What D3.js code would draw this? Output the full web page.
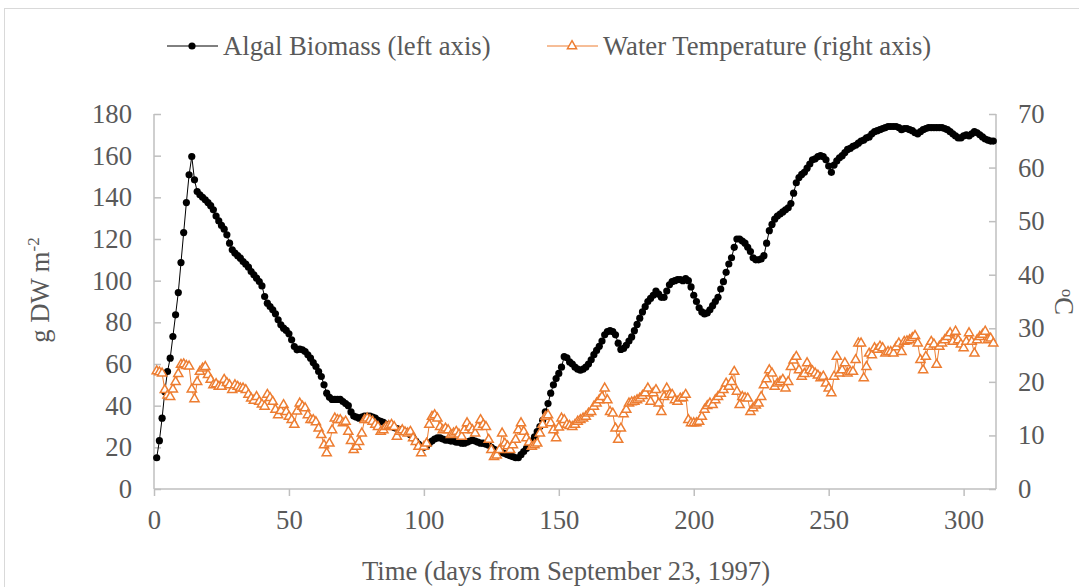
<!DOCTYPE html>
<html><head><meta charset="utf-8">
<script src="https://cdn.jsdelivr.net/npm/d3@7"></script>
<style>body{margin:0;background:#fff}text{font-family:"Liberation Serif","Times New Roman",serif}</style>
</head><body><svg id="c" width="1079" height="587"></svg>
<script>
const dayStart = 1;
const biomass = [
15.0,23.2,34.0,46.7,56.4,62.8,73.2,83.6,94.3,108.7,
123.1,137.5,150.8,159.6,148.4,142.8,141.2,140.0,138.8,137.5,
136.0,134.0,131.0,128.7,126.5,124.7,122.0,118.0,114.8,113.2,
112.0,110.8,109.2,107.9,106.5,104.4,102.8,101.2,99.6,97.5,
92.4,89.2,87.6,86.0,84.1,81.2,78.8,77.2,76.1,74.5,
71.6,68.4,66.8,67.1,66.8,66.0,64.4,62.8,60.7,58.8,
56.4,54.0,50.0,46.0,44.0,43.0,43.0,43.0,43.0,42.0,
41.0,40.0,37.0,35.0,34.5,34.0,34.5,35.0,35.0,35.0,
34.5,34.0,33.0,32.5,32.0,31.0,30.5,30.0,29.5,29.0,
28.5,28.0,27.5,27.0,26.0,24.5,23.0,21.5,20.5,20.0,
20.5,22.0,23.0,24.0,24.5,24.5,24.0,23.5,23.5,23.0,
23.0,22.5,22.5,22.0,22.0,22.5,23.0,23.5,23.0,22.5,
22.0,22.0,21.5,21.0,20.0,19.0,18.5,18.0,17.5,17.0,
16.5,16.0,15.5,15.0,15.0,16.5,18.0,19.5,21.0,23.0,
25.0,27.5,30.0,33.0,37.0,41.0,46.0,50.0,53.0,55.5,
58.5,63.5,63.0,61.0,60.0,58.5,57.5,57.0,57.5,58.5,
60.0,62.0,64.5,66.5,68.5,71.0,74.0,75.5,76.0,75.5,
74.0,70.0,67.0,67.5,69.0,71.0,73.0,76.0,79.0,82.0,
85.0,87.5,90.0,91.5,93.0,95.0,93.5,92.0,92.0,95.0,
98.0,99.5,100.0,100.5,100.5,100.0,101.0,100.0,97.0,93.0,
90.0,87.0,85.0,84.0,84.5,86.0,88.0,90.0,92.0,96.0,
99.5,104.0,108.0,111.0,116.0,120.0,120.0,119.0,118.0,116.0,
114.0,111.0,110.0,110.0,110.5,112.0,118.0,124.0,127.0,129.5,
131.0,132.0,133.0,134.0,135.0,137.0,142.0,147.0,149.5,151.0,
152.0,154.0,156.0,158.0,158.5,159.5,160.0,159.5,158.0,155.0,
152.0,155.5,157.5,159.0,160.0,161.5,163.0,163.5,164.5,165.0,
166.0,167.0,167.5,168.5,169.0,170.5,171.5,172.0,172.5,173.0,
173.5,174.0,174.0,174.0,174.0,173.5,172.5,173.0,173.0,172.5,
172.0,171.0,170.5,171.5,172.5,173.0,173.5,173.5,173.5,173.5,
173.5,173.5,173.0,172.5,171.5,170.5,169.5,168.5,168.5,169.5,
170.0,169.5,170.5,171.5,171.0,170.0,169.0,168.0,167.5,167.0,
167.0
];
const temperature = [
22.0,21.8,21.6,18.5,17.5,17.2,18.6,20.0,21.5,23.2,
23.3,23.0,22.9,18.6,16.8,20.0,21.9,22.5,22.8,21.3,
20.4,19.4,19.6,19.1,19.1,20.4,19.8,19.4,18.5,19.4,
19.1,18.8,18.8,18.5,17.6,16.9,16.5,17.2,16.3,15.8,
15.4,17.6,17.0,16.3,14.8,13.8,14.6,15.7,14.4,13.5,
12.9,12.0,14.5,16.0,15.4,15.1,13.8,12.9,12.9,12.5,
11.3,10.1,8.2,6.7,8.5,11.0,13.2,12.9,12.9,12.3,
12.6,10.7,9.0,7.3,7.9,8.8,10.4,12.9,13.2,12.9,
12.6,12.0,11.6,10.7,11.0,11.6,11.8,12.0,11.6,9.8,
10.7,11.0,10.6,10.4,10.7,9.5,8.8,7.9,6.7,7.9,
8.5,12.0,13.5,13.8,13.2,11.6,11.0,11.3,11.0,10.1,
10.4,10.7,10.2,9.8,11.0,12.3,11.5,11.0,10.4,11.6,
12.9,12.0,11.6,9.2,7.3,6.0,6.3,7.3,10.4,8.5,
8.0,7.3,8.2,9.2,11.0,12.3,10.7,9.5,8.7,7.9,
8.2,8.5,10.4,12.0,13.5,13.8,12.3,11.0,9.5,11.5,
13.2,12.9,12.0,11.8,11.6,12.0,12.6,12.9,13.2,13.5,
14.1,14.4,15.4,16.0,16.6,17.2,18.8,16.6,14.4,14.1,
11.3,9.2,11.3,14.0,14.8,16.0,16.2,16.3,16.6,16.9,
17.4,17.9,18.8,16.3,17.9,18.5,16.0,14.4,17.2,18.8,
17.6,17.6,16.6,16.3,16.9,17.0,17.6,12.9,12.3,12.3,
12.3,12.6,13.5,14.8,15.5,16.0,15.7,16.6,17.2,17.8,
18.5,19.7,19.1,20.0,21.9,18.2,15.7,17.2,17.0,16.9,
14.4,15.1,15.6,16.0,17.2,19.4,20.5,22.2,21.6,19.1,
19.7,20.0,20.4,18.8,20.0,22.8,24.0,24.7,22.2,21.0,
21.5,23.5,22.2,22.0,21.6,21.2,20.7,21.0,19.7,18.8,
17.9,21.0,24.7,21.6,22.2,23.5,21.6,21.9,21.9,24.1,
27.2,27.2,20.7,22.8,25.3,25.0,26.3,26.0,26.6,26.3,
25.3,25.6,25.6,25.3,26.5,27.2,25.6,27.5,27.6,27.8,
28.2,28.6,27.2,24.1,22.2,24.7,26.6,27.5,27.0,23.2,
26.6,27.2,27.8,28.4,29.1,27.5,29.4,27.8,27.0,26.3,
27.5,29.1,27.5,25.3,27.8,28.4,28.8,29.4,27.8,28.1,
27.2
];
const xTicks = [0,50,100,150,200,250,300];
const yLeftTicks = [0,20,40,60,80,100,120,140,160,180];
const yRightTicks = [0,10,20,30,40,50,60,70];
const legendLabels = ["Algal Biomass (left axis)", "Water Temperature (right axis)"];

const svg = d3.select("#c");
const W = 1079, H = 587;
const pL = 154, pR = 996, pT = 114, pB = 489;
const gray = "#595959", axisC = "#bfbfbf", orange = "#ED7D31";
const fs = 26.7;

svg.append("rect").attr("x",0).attr("y",0).attr("width",W).attr("height",H).attr("fill","#fff");
svg.append("rect").attr("x",4.5).attr("y",8.5).attr("width",W+20).attr("height",H+20)
  .attr("fill","none").attr("stroke","#d9d9d9").attr("stroke-width",1);

const x = d3.scaleLinear().domain([0,312]).range([pL,pR]);
const yL = d3.scaleLinear().domain([0,180]).range([pB,pT]);
const yR = d3.scaleLinear().domain([0,70]).range([pB,pT]);

const days = d3.range(dayStart, dayStart + biomass.length);
const bData = days.map((d,i)=>[d,biomass[i]]);
const tData = days.map((d,i)=>[d,temperature[i]]);

const gx = svg.append("g").attr("transform",`translate(0,${pB})`)
  .call(d3.axisBottom(x).tickValues(xTicks).tickSize(7).tickPadding(14).tickFormat(d3.format("d")));
const gl = svg.append("g").attr("transform",`translate(${pL},0)`)
  .call(d3.axisLeft(yL).tickValues(yLeftTicks).tickSize(-7).tickPadding(22).tickFormat(d3.format("d")));
const gr = svg.append("g").attr("transform",`translate(${pR},0)`)
  .call(d3.axisRight(yR).tickValues(yRightTicks).tickSize(-7).tickPadding(22).tickFormat(d3.format("d")));
[gx,gl,gr].forEach(g=>{
  g.select(".domain").attr("stroke",axisC).attr("stroke-width",1.5);
  g.selectAll(".tick line").attr("stroke",axisC).attr("stroke-width",1.5);
  g.selectAll(".tick text").attr("fill",gray).attr("font-size",fs)
   .attr("font-family","Liberation Serif, Times New Roman, serif");
});
gx.select(".domain").attr("d",`M${pL},0H${pR}`);
gl.select(".domain").attr("d",`M0,${pT}V${pB}`);
gr.select(".domain").attr("d",`M0,${pT}V${pB}`);

svg.append("path").datum(bData).attr("fill","none").attr("stroke","#000").attr("stroke-width",1)
  .attr("d",d3.line().x(d=>x(d[0])).y(d=>yL(d[1])));
svg.append("g").selectAll("circle").data(bData).join("circle")
  .attr("cx",d=>x(d[0])).attr("cy",d=>yL(d[1])).attr("r",3.6).attr("fill","#000");

svg.append("path").datum(tData).attr("fill","none").attr("stroke",orange).attr("stroke-width",1)
  .attr("d",d3.line().x(d=>x(d[0])).y(d=>yR(d[1])));
const tri = d3.symbol().type(d3.symbolTriangle).size(36);
svg.append("g").selectAll("path").data(tData).join("path")
  .attr("d",tri).attr("transform",d=>`translate(${x(d[0])},${yR(d[1])})`)
  .attr("fill","#fff").attr("stroke",orange).attr("stroke-width",1.5);

svg.append("text").attr("x",(pL+pR)/2-9).attr("y",580).attr("text-anchor","middle")
  .attr("fill",gray).attr("font-size",fs).text("Time (days from September 23, 1997)");
const lt = svg.append("text").attr("transform","translate(49,290) rotate(-90)").attr("text-anchor","middle")
  .attr("fill",gray).attr("font-size",fs);
lt.append("tspan").text("g DW m");
lt.append("tspan").attr("font-size",17).attr("dy",-10).text("-2");
const rt = svg.append("text").attr("transform","translate(1055,302) rotate(90)").attr("text-anchor","middle")
  .attr("fill",gray).attr("font-size",fs);
rt.append("tspan").attr("font-size",17).attr("dy",-7).text("o");
rt.append("tspan").attr("dy",7).text("C");

const lg = svg.append("g");
lg.append("line").attr("x1",167).attr("x2",218).attr("y1",46).attr("y2",46).attr("stroke","#000").attr("stroke-width",1);
lg.append("circle").attr("cx",192).attr("cy",46).attr("r",3.6).attr("fill","#000");
lg.append("text").attr("x",223).attr("y",55).attr("fill",gray).attr("font-size",fs).text(legendLabels[0]);
lg.append("line").attr("x1",547).attr("x2",598).attr("y1",46).attr("y2",46).attr("stroke",orange).attr("stroke-width",1);
lg.append("path").attr("d",tri).attr("transform","translate(572,46)").attr("fill","#fff").attr("stroke",orange).attr("stroke-width",1.5);
lg.append("text").attr("x",603).attr("y",55).attr("fill",gray).attr("font-size",fs).text(legendLabels[1]);
</script></body></html>
